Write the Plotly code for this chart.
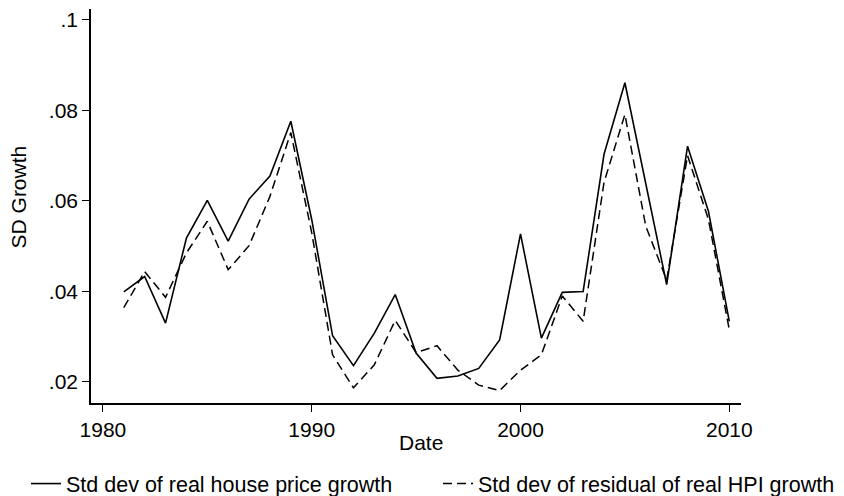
import plotly.graph_objects as go

years = list(range(1981, 2011))
sd_house = [0.0399, 0.0433, 0.0330, 0.0518, 0.0601, 0.0511, 0.0604, 0.0655, 0.0776, 0.0559,
            0.0302, 0.0236, 0.0308, 0.0393, 0.0264, 0.0208, 0.0213, 0.0230, 0.0293, 0.0527,
            0.0297, 0.0398, 0.0400, 0.0703, 0.0861, 0.0641, 0.0415, 0.0721, 0.0577, 0.0334]
sd_resid = [0.0364, 0.0444, 0.0387, 0.0485, 0.0555, 0.0448, 0.0501, 0.0610, 0.0751, 0.0530,
            0.0260, 0.0187, 0.0238, 0.0336, 0.0265, 0.0280, 0.0226, 0.0193, 0.0181, 0.0226,
            0.0260, 0.0390, 0.0334, 0.0641, 0.0791, 0.0544, 0.0425, 0.0700, 0.0559, 0.0315]

y_tickvals = [0.02, 0.04, 0.06, 0.08, 0.1]
y_ticktext = [".02", ".04", ".06", ".08", ".1"]
x_tickvals = [1980, 1990, 2000, 2010]

FONT = "Liberation Sans, Arial, Helvetica, sans-serif"
FS = 21
LFS = 21.5

fig = go.Figure()
fig.add_trace(go.Scatter(x=years, y=sd_house, mode="lines",
                         name="Std dev of real house price growth",
                         line=dict(color="black", width=1.6), legend="legend"))
fig.add_trace(go.Scatter(x=years, y=sd_resid, mode="lines",
                         name="Std dev of residual of real HPI growth",
                         line=dict(color="black", width=1.5, dash="9px,5px"),
                         legend="legend2"))

leg_common = dict(orientation="h", yref="container", y=0.025, yanchor="middle",
                  xref="container", xanchor="left", font=dict(size=LFS),
                  bgcolor="rgba(0,0,0,0)", borderwidth=0)

fig.update_layout(
    width=844, height=496,
    margin=dict(l=91, r=103, t=9, b=93, autoexpand=False),
    paper_bgcolor="white", plot_bgcolor="white",
    font=dict(family=FONT, size=FS, color="black"),
    showlegend=True,
    legend=dict(x=26 / 844, **leg_common),
    legend2=dict(x=438 / 844, **leg_common),
    xaxis=dict(range=[1979.43, 2010.56], tickvals=x_tickvals, ticks="outside",
               ticklen=7, tickwidth=1.3, tickcolor="black",
               showline=True, linecolor="black", linewidth=1.5,
               showgrid=False, zeroline=False, automargin=False,
               tickfont=dict(size=FS)),
    yaxis=dict(range=[0.01535, 0.1024], tickvals=y_tickvals, ticktext=y_ticktext,
               ticks="outside", ticklen=7, tickwidth=1.3, tickcolor="black",
               showline=True, linecolor="black", linewidth=1.5,
               showgrid=False, zeroline=False, automargin=False,
               tickfont=dict(size=FS)),
    annotations=[
        dict(text="Date", xref="paper", yref="paper", x=0.508, y=-0.1015,
             xanchor="center", yanchor="middle", showarrow=False,
             font=dict(size=FS)),
        dict(text="SD Growth", xref="paper", yref="paper", x=-0.1115, y=0.523,
             xanchor="center", yanchor="middle", textangle=-90, showarrow=False,
             font=dict(size=FS)),
    ],
)

fig.write_html("out.html", config={"displayModeBar": False},
               post_script="document.body.style.margin='0px';")
